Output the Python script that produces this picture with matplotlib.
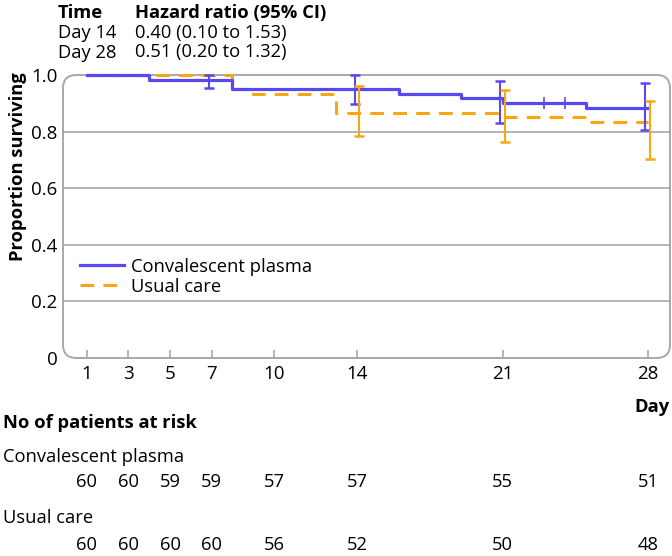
import matplotlib.pyplot as plt
from matplotlib.patches import FancyBboxPatch
import matplotlib.transforms as mtransforms

plt.rcParams['font.family'] = ['Open Sans', 'DejaVu Sans']

# survival steps
cp_days = [1, 4, 8, 16, 19, 21, 25, 28]
cp_surv = [1.0, 0.983, 0.95, 0.933, 0.917, 0.9, 0.883, 0.883]
uc_days = [1, 8, 9, 13, 21, 25, 28]
uc_surv = [1.0, 0.95, 0.933, 0.867, 0.85, 0.833, 0.833]
cp_censor_days = [23, 24]
cp_censor_surv = [0.9, 0.9]

# confidence intervals
ci_days_cp = [7, 14, 21, 28]
cp_lo = [0.953, 0.897, 0.829, 0.806]
cp_hi = [1.0, 1.0, 0.98, 0.971]
ci_days_uc = [14, 21, 28]
uc_lo = [0.784, 0.765, 0.702]
uc_hi = [0.961, 0.947, 0.908]

# at-risk table
risk_days = [1, 3, 5, 7, 10, 14, 21, 28]
cp_risk = [60, 60, 59, 59, 57, 57, 55, 51]
uc_risk = [60, 60, 60, 60, 56, 52, 50, 48]

hr_rows = [('Day 14', '0.40 (0.10 to 1.53)'), ('Day 28', '0.51 (0.20 to 1.32)')]

blue = '#5848f0'
orange = '#f7a614'
gray = '#a8a8a8'
fs = 13.2

W, H = 672, 556
fig = plt.figure(figsize=(W / 100, H / 100), dpi=100)
ax = fig.add_axes([63 / W, 1 - 358 / H, (670 - 63) / W, (358 - 75) / H])
ax.set_xlim(-0.15, 29.06)
ax.set_ylim(0, 1.0)
for s in ax.spines.values():
    s.set_visible(False)

frame = FancyBboxPatch((0, 0), 1, 1, boxstyle='round,pad=0,rounding_size=0.022',
                       mutation_aspect=(670 - 63) / (358 - 75),
                       transform=ax.transAxes, fill=False, edgecolor=gray,
                       linewidth=1.4, clip_on=False, zorder=1)
ax.add_patch(frame)
for g in [0.2, 0.4, 0.6, 0.8]:
    ax.axhline(g, color=gray, lw=1.2, zorder=1)

ax.set_xticks(risk_days)
ax.set_yticks([0, 0.2, 0.4, 0.6, 0.8, 1.0])
ax.set_yticklabels(['0', '0.2', '0.4', '0.6', '0.8', '1.0'])
ax.tick_params(axis='x', direction='in', length=6, color=gray, width=1.2,
               labelsize=13.5, pad=5)
ax.tick_params(axis='y', length=0, labelsize=13.5, pad=4)
ax.set_ylabel('Proportion surviving', fontsize=fs, fontweight='bold')
ax.yaxis.set_label_coords(-0.06, 0.675)

ax.step(uc_days, uc_surv, where='post', color=orange, lw=2.2,
        dashes=(4.5, 3), label='Usual care', clip_on=False, zorder=3)
ax.step(cp_days, cp_surv, where='post', color=blue, lw=2.3,
        label='Convalescent plasma', clip_on=False, zorder=4)
ax.plot(cp_censor_days, cp_censor_surv, ls='none', marker='|', ms=9,
        mew=1.2, color=blue, zorder=4)

off_cp = [d - 0.12 for d in ci_days_cp]
off_uc = [d + 0.1 for d in ci_days_uc]
ax.vlines(off_cp, cp_lo, cp_hi, color=blue, lw=1.5, zorder=5, clip_on=False)
ax.plot(off_cp + off_cp, cp_lo + cp_hi, ls='none', marker='_', ms=7, mew=1.8,
        color=blue, zorder=5, clip_on=False)
ax.vlines(off_uc, uc_lo, uc_hi, color=orange, lw=1.5, zorder=5, clip_on=False)
ax.plot(off_uc + off_uc, uc_lo + uc_hi, ls='none', marker='_', ms=7, mew=1.8,
        color=orange, zorder=5, clip_on=False)

handles, labels = ax.get_legend_handles_labels()
ax.legend(handles[::-1], labels[::-1], loc='lower left',
          bbox_to_anchor=(0.028, 0.22), frameon=False, fontsize=fs,
          handlelength=2.4, handletextpad=0.4, labelspacing=0.12,
          borderpad=0, borderaxespad=0)

# header with hazard ratios
fig.text(58 / W, 1 - 13 / H, 'Time', fontsize=fs, fontweight='bold', va='center')
fig.text(135 / W, 1 - 13 / H, 'Hazard ratio (95% CI)', fontsize=fs,
         fontweight='bold', va='center')
for i, (t, hr) in enumerate(hr_rows):
    y = 1 - (33 + 19.5 * i) / H
    fig.text(58 / W, y, t, fontsize=fs, va='center')
    fig.text(135 / W, y, hr, fontsize=fs, va='center')

# at-risk table
fig.text(670 / W, 1 - 407 / H, 'Day', fontsize=fs, fontweight='bold',
         ha='right', va='center')
fig.text(3 / W, 1 - 423 / H, 'No of patients at risk', fontsize=fs,
         fontweight='bold', va='center')
fig.text(3 / W, 1 - 457 / H, 'Convalescent plasma', fontsize=fs, va='center')
fig.text(3 / W, 1 - 518 / H, 'Usual care', fontsize=fs, va='center')
trans = mtransforms.blended_transform_factory(ax.transData, fig.transFigure)
for d, a, b in zip(risk_days, cp_risk, uc_risk):
    ax.text(d, 1 - 482 / H, str(a), transform=trans, fontsize=fs,
            ha='center', va='center')
    ax.text(d, 1 - 545 / H, str(b), transform=trans, fontsize=fs,
            ha='center', va='center')

fig.savefig('out.png', dpi=100)
